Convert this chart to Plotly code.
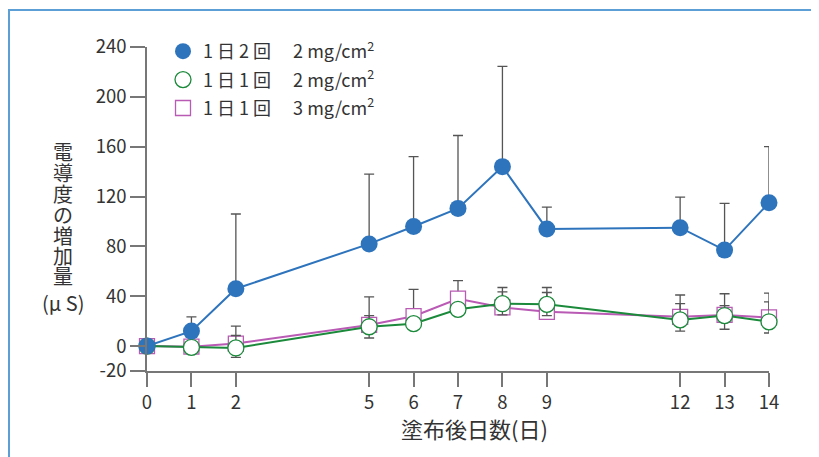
import plotly.graph_objects as go

days = [0, 1, 2, 5, 6, 7, 8, 9, 12, 13, 14]

# 1日2回 2 mg/cm2 (filled blue circles)
twice_2mg = [0, 12, 46, 82, 96, 110.5, 144, 94, 95, 77, 115]
twice_2mg_err = [0, 11.5, 60, 56, 56, 58.5, 80.5, 17.5, 24.5, 37.5, 45]

# 1日1回 2 mg/cm2 (open green circles)
once_2mg = [0, -1, -1.5, 15.5, 18, 29.5, 34, 33.5, 21, 24.5, 19.5]
once_2mg_err_up = [0, 0, 10, 9, 4, 4, 9.5, 9.5, 13, 8, 16]
once_2mg_err_down = [0, 0, 7.5, 9, 4, 4, 9, 9, 9, 11, 9]

# 1日1回 3 mg/cm2 (open magenta squares)
once_3mg = [0, -0.5, 2, 17, 24, 38, 31, 27.5, 23.5, 25, 23]
once_3mg_err_up = [0, 0, 14, 22.5, 21.5, 14.5, 16, 19.5, 17.5, 17, 19.5]

y_ticks = [-20, 0, 40, 80, 120, 160, 200, 240]
legend_names = [
    "1 日 2 回\u3000 2 mg/cm<sup>2</sup>",
    "1 日 1 回\u3000 2 mg/cm<sup>2</sup>",
    "1 日 1 回\u3000 3 mg/cm<sup>2</sup>",
]
y_title_chars = ["電", "導", "度", "の", "増", "加", "量", "(μ S)"]
x_title = "塗布後日数(日)"

BLUE = "#2e74bd"
GREEN = "#1b8a3b"
MAGENTA = "#b95ab4"
ERR = "#555555"
AXIS = "#777777"
TXT = "#333333"
FONT = "Noto Sans CJK JP"

# page has an 8px body margin: figure spans page x 8..819, y 8..457
OFF = 8
L, R, T, B = 139, 50, 39, 86
W, H = 819 - OFF, 457 - OFF
PX0, PW = OFF + L, W - L - R     # plot area page-x start and width
PY1, PH = OFF + H - B, H - T - B  # plot area page-y bottom and height


def px(x):
    return (x - PX0) / PW


def py(y):
    return (PY1 - y) / PH


fig = go.Figure()

fig.add_trace(go.Scatter(
    x=days, y=once_3mg, mode="lines+markers", showlegend=False, cliponaxis=False,
    line=dict(color=MAGENTA, width=2),
    marker=dict(symbol="square", size=15, color="white", line=dict(color=MAGENTA, width=1.3)),
    error_y=dict(type="data", symmetric=False, array=once_3mg_err_up,
                 arrayminus=[0] * len(days), color=ERR, thickness=1.3, width=5),
))
fig.add_trace(go.Scatter(
    x=days, y=once_2mg, mode="lines+markers", showlegend=False, cliponaxis=False,
    line=dict(color=GREEN, width=2),
    marker=dict(symbol="circle", size=16, color="white", line=dict(color=GREEN, width=1.3)),
    error_y=dict(type="data", symmetric=False, array=once_2mg_err_up,
                 arrayminus=once_2mg_err_down, color=ERR, thickness=1.3, width=5),
))
fig.add_trace(go.Scatter(
    x=days, y=twice_2mg, mode="lines+markers", showlegend=False, cliponaxis=False,
    line=dict(color=BLUE, width=2),
    marker=dict(symbol="circle", size=17, color=BLUE, line=dict(color=BLUE, width=0)),
    error_y=dict(type="data", symmetric=False, array=twice_2mg_err,
                 arrayminus=[0] * len(days), color=ERR, thickness=1.3, width=5),
))

# legend-only entries (markers only)
fig.add_trace(go.Scatter(x=[None], y=[None], mode="markers", name=legend_names[0], legendrank=1,
                         legendgroup="a", marker=dict(symbol="circle", size=17, color=BLUE)))
fig.add_trace(go.Scatter(x=[None], y=[None], mode="markers", name=legend_names[1], legendrank=2,
                         legendgroup="b",
                         marker=dict(symbol="circle", size=16, color="white", line=dict(color=GREEN, width=1.3))))
fig.add_trace(go.Scatter(x=[None], y=[None], mode="markers", name=legend_names[2], legendrank=3,
                         legendgroup="c",
                         marker=dict(symbol="square", size=15, color="white", line=dict(color=MAGENTA, width=1.3))))

annotations = []
y_pos = [151, 172, 193, 214, 235, 255, 275, 302]
for ch, yy in zip(y_title_chars, y_pos):
    annotations.append(dict(text=ch, xref="paper", yref="paper", x=px(63), y=py(yy),
                            xanchor="center", yanchor="middle", showarrow=False,
                            font=dict(size=20, color=TXT)))
annotations.append(dict(text=x_title, xref="paper", yref="paper", x=px(474), y=py(428),
                        xanchor="center", yanchor="middle", showarrow=False,
                        font=dict(size=22, color=TXT)))

fig.update_layout(
    width=W, height=H,
    margin=dict(l=L, r=R, t=T, b=B),
    paper_bgcolor="white", plot_bgcolor="white",
    font=dict(family=FONT, size=18.5, color=TXT),
    legend=dict(x=px(163), y=py(33), xanchor="left", yanchor="top",
                bgcolor="rgba(0,0,0,0)", font=dict(size=18, color=TXT),
                tracegroupgap=2, itemsizing="trace"),
    xaxis=dict(range=[0, 14], tickvals=days, ticktext=[str(d) for d in days],
               showgrid=False, zeroline=False, showline=True, linecolor=AXIS, linewidth=1.5,
               ticks="outside", ticklen=14, tickwidth=1.5, tickcolor=AXIS, automargin=False),
    yaxis=dict(range=[-20, 240], tickvals=y_ticks, ticktext=[str(v) for v in y_ticks],
               showgrid=False, zeroline=False, showline=True, linecolor=AXIS, linewidth=1.5,
               ticks="outside", ticklen=15, tickwidth=1.5, tickcolor=AXIS, automargin=False),
    shapes=[dict(type="path", xref="paper", yref="paper",
                 path=f"M {px(9)},{py(470)} L {px(9)},{py(10)} L {px(830)},{py(10)}",
                 line=dict(color="#5b9fd6", width=2))],
    annotations=annotations,
)

fig.write_html("out.html")
